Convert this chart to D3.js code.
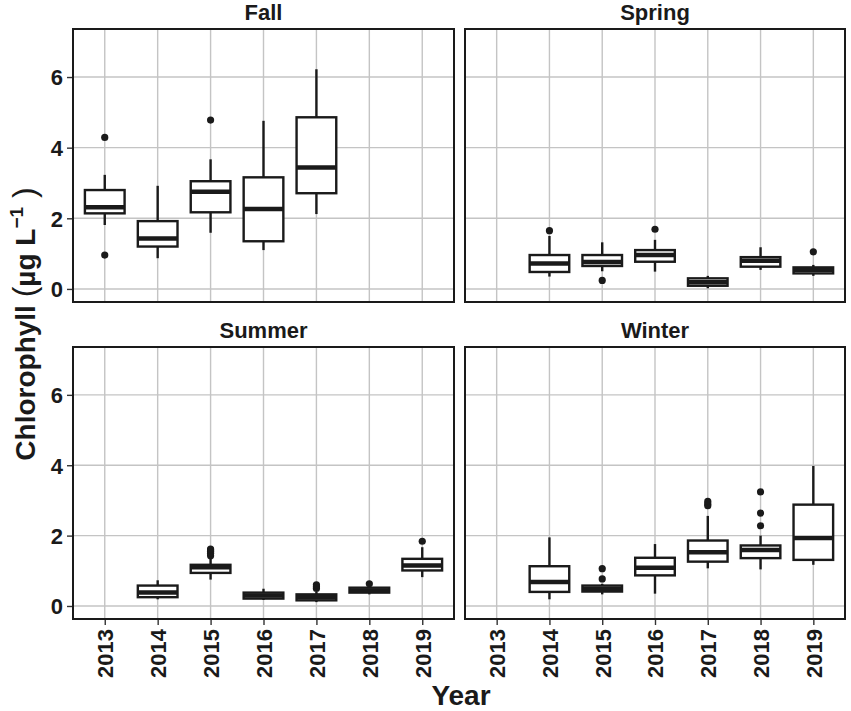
<!DOCTYPE html>
<html>
<head>
<meta charset="utf-8">
<script src="https://cdn.jsdelivr.net/npm/d3@7"></script>
<style>
  body { margin: 0; background: #fff; }
  text { font-family: "Liberation Sans", Arial, sans-serif; font-weight: bold; }
</style>
</head>
<body>
<div id="chart"></div>
<script>
// box stats per season: lower whisker, q1, median, q3, upper whisker, outliers
var years = ["2013", "2014", "2015", "2016", "2017", "2018", "2019"];
var yTicks = [0, 2, 4, 6];

var fall = [
  { year: "2013", lo: 1.81, q1: 2.14, med: 2.31, q3: 2.80, hi: 3.23, out: [4.29, 0.96] },
  { year: "2014", lo: 0.87, q1: 1.20, med: 1.43, q3: 1.92, hi: 2.92, out: [] },
  { year: "2015", lo: 1.59, q1: 2.17, med: 2.75, q3: 3.05, hi: 3.67, out: [4.78] },
  { year: "2016", lo: 1.10, q1: 1.35, med: 2.26, q3: 3.16, hi: 4.76, out: [] },
  { year: "2017", lo: 2.12, q1: 2.71, med: 3.44, q3: 4.86, hi: 6.22, out: [] }
];

var spring = [
  { year: "2014", lo: 0.35, q1: 0.48, med: 0.72, q3: 0.96, hi: 1.50, out: [1.65] },
  { year: "2015", lo: 0.50, q1: 0.65, med: 0.76, q3: 0.96, hi: 1.32, out: [0.24] },
  { year: "2016", lo: 0.49, q1: 0.77, med: 0.96, q3: 1.10, hi: 1.39, out: [1.69] },
  { year: "2017", lo: 0.02, q1: 0.09, med: 0.19, q3: 0.30, hi: 0.37, out: [] },
  { year: "2018", lo: 0.54, q1: 0.63, med: 0.80, q3: 0.90, hi: 1.18, out: [] },
  { year: "2019", lo: 0.37, q1: 0.44, med: 0.54, q3: 0.61, hi: 0.68, out: [1.05] }
];

var summer = [
  { year: "2014", lo: 0.19, q1: 0.25, med: 0.38, q3: 0.58, hi: 0.73, out: [] },
  { year: "2015", lo: 0.75, q1: 0.94, med: 1.10, q3: 1.17, hi: 1.39, out: [1.43, 1.50, 1.55, 1.59, 1.62] },
  { year: "2016", lo: 0.17, q1: 0.21, med: 0.30, q3: 0.38, hi: 0.49, out: [] },
  { year: "2017", lo: 0.11, q1: 0.16, med: 0.25, q3: 0.33, hi: 0.40, out: [0.50, 0.55, 0.60] },
  { year: "2018", lo: 0.33, q1: 0.38, med: 0.44, q3: 0.52, hi: 0.54, out: [0.63] },
  { year: "2019", lo: 0.82, q1: 1.01, med: 1.15, q3: 1.34, hi: 1.67, out: [1.84] }
];

var winter = [
  { year: "2014", lo: 0.19, q1: 0.40, med: 0.68, q3: 1.13, hi: 1.95, out: [] },
  { year: "2015", lo: 0.33, q1: 0.41, med: 0.49, q3: 0.58, hi: 0.63, out: [0.77, 1.06] },
  { year: "2016", lo: 0.35, q1: 0.87, med: 1.09, q3: 1.37, hi: 1.76, out: [] },
  { year: "2017", lo: 1.07, q1: 1.26, med: 1.53, q3: 1.86, hi: 2.56, out: [2.85, 2.90, 2.97] },
  { year: "2018", lo: 1.04, q1: 1.36, med: 1.59, q3: 1.72, hi: 2.00, out: [2.28, 2.64, 3.24] },
  { year: "2019", lo: 1.17, q1: 1.31, med: 1.93, q3: 2.88, hi: 3.98, out: [] }
];

var panels = [
  { name: "Fall", data: fall, col: 0, row: 0 },
  { name: "Spring", data: spring, col: 1, row: 0 },
  { name: "Summer", data: summer, col: 0, row: 1 },
  { name: "Winter", data: winter, col: 1, row: 1 }
];

var svg = d3.select("#chart").append("svg")
  .attr("width", 851)
  .attr("height", 711);

var colX = [[73, 454], [465, 845]];
var rowY = [[29, 302], [347, 619]];

panels.forEach(function (p) {
  var x0 = colX[p.col][0], x1 = colX[p.col][1];
  var y0 = rowY[p.row][0], y1 = rowY[p.row][1];

  var x = d3.scalePoint().domain(years).range([x0, x1]).padding(0.6);
  var y = d3.scaleLinear().domain([-0.37, 7.36]).range([y1, y0]);
  var bw = x.step() * 0.75;

  var g = svg.append("g");

  // grid
  g.selectAll(".hgrid").data(yTicks).enter().append("line")
    .attr("x1", x0).attr("x2", x1)
    .attr("y1", function (d) { return y(d); })
    .attr("y2", function (d) { return y(d); })
    .attr("stroke", "#c4c4c4").attr("stroke-width", 1.4);
  g.selectAll(".vgrid").data(years).enter().append("line")
    .attr("x1", function (d) { return x(d); })
    .attr("x2", function (d) { return x(d); })
    .attr("y1", y0).attr("y2", y1)
    .attr("stroke", "#c4c4c4").attr("stroke-width", 1.4);

  // boxes
  var b = g.selectAll(".box").data(p.data).enter().append("g");
  b.append("line")
    .attr("x1", function (d) { return x(d.year); })
    .attr("x2", function (d) { return x(d.year); })
    .attr("y1", function (d) { return y(d.hi); })
    .attr("y2", function (d) { return y(d.lo); })
    .attr("stroke", "#1a1a1a").attr("stroke-width", 2.4);
  b.append("rect")
    .attr("x", function (d) { return x(d.year) - bw / 2; })
    .attr("width", bw)
    .attr("y", function (d) { return y(d.q3); })
    .attr("height", function (d) { return y(d.q1) - y(d.q3); })
    .attr("fill", "#fff").attr("stroke", "#1a1a1a").attr("stroke-width", 2.4);
  b.append("line")
    .attr("x1", function (d) { return x(d.year) - bw / 2; })
    .attr("x2", function (d) { return x(d.year) + bw / 2; })
    .attr("y1", function (d) { return y(d.med); })
    .attr("y2", function (d) { return y(d.med); })
    .attr("stroke", "#1a1a1a").attr("stroke-width", 4.5);
  b.selectAll("circle").data(function (d) {
      return d.out.map(function (v) { return { year: d.year, v: v }; });
    }).enter().append("circle")
    .attr("cx", function (d) { return x(d.year); })
    .attr("cy", function (d) { return y(d.v); })
    .attr("r", 3.6)
    .attr("fill", "#1a1a1a");

  // border
  g.append("rect")
    .attr("x", x0).attr("y", y0)
    .attr("width", x1 - x0).attr("height", y1 - y0)
    .attr("fill", "none").attr("stroke", "#1a1a1a").attr("stroke-width", 2);

  // strip title
  g.append("text")
    .attr("x", (x0 + x1) / 2).attr("y", y0 - 9)
    .attr("text-anchor", "middle")
    .attr("font-size", "22px")
    .attr("fill", "#1a1a1a")
    .text(p.name);

  // y axis on left column
  if (p.col === 0) {
    var ya = d3.axisLeft(y).tickValues(yTicks).tickSize(5).tickPadding(4);
    var yg = g.append("g").attr("transform", "translate(" + (x0 - 1) + ",0)").call(ya);
    yg.select(".domain").remove();
    yg.selectAll("line").attr("stroke", "#333").attr("stroke-width", 1.4);
    yg.selectAll("text").attr("font-size", "22px").attr("fill", "#1a1a1a")
      .attr("font-family", "Liberation Sans, Arial, sans-serif").attr("font-weight", "bold")
      .attr("dy", "0.36em");
  }

  // x axis on bottom row
  if (p.row === 1) {
    var xa = d3.axisBottom(x).tickSize(5).tickPadding(5);
    var xg = g.append("g").attr("transform", "translate(0," + (y1 + 1) + ")").call(xa);
    xg.select(".domain").remove();
    xg.selectAll("line").attr("stroke", "#333").attr("stroke-width", 1.4);
    xg.selectAll("text")
      .attr("font-size", "22px").attr("fill", "#1a1a1a")
      .attr("font-family", "Liberation Sans, Arial, sans-serif").attr("font-weight", "bold")
      .attr("transform", "rotate(-90)")
      .attr("text-anchor", "end")
      .attr("x", -9).attr("y", 0)
      .attr("dy", "0.36em");
  }
});

// axis titles
svg.append("text")
  .attr("x", 461).attr("y", 705)
  .attr("text-anchor", "middle")
  .attr("font-size", "28px")
  .attr("fill", "#1a1a1a")
  .text("Year");

var yt = svg.append("text")
  .attr("transform", "translate(35,324) rotate(-90)")
  .attr("text-anchor", "middle")
  .attr("font-size", "28px")
  .attr("fill", "#1a1a1a");
yt.append("tspan").text("Chlorophyll ");
yt.append("tspan").attr("font-size", "32px").attr("font-weight", "normal").text("(");
yt.append("tspan").text("µg L");
yt.append("tspan").attr("font-size", "19px").attr("dy", "-12").text("\u22121");
yt.append("tspan").attr("font-size", "32px").attr("font-weight", "normal").attr("dy", "12").text(" )");
</script>
</body>
</html>
